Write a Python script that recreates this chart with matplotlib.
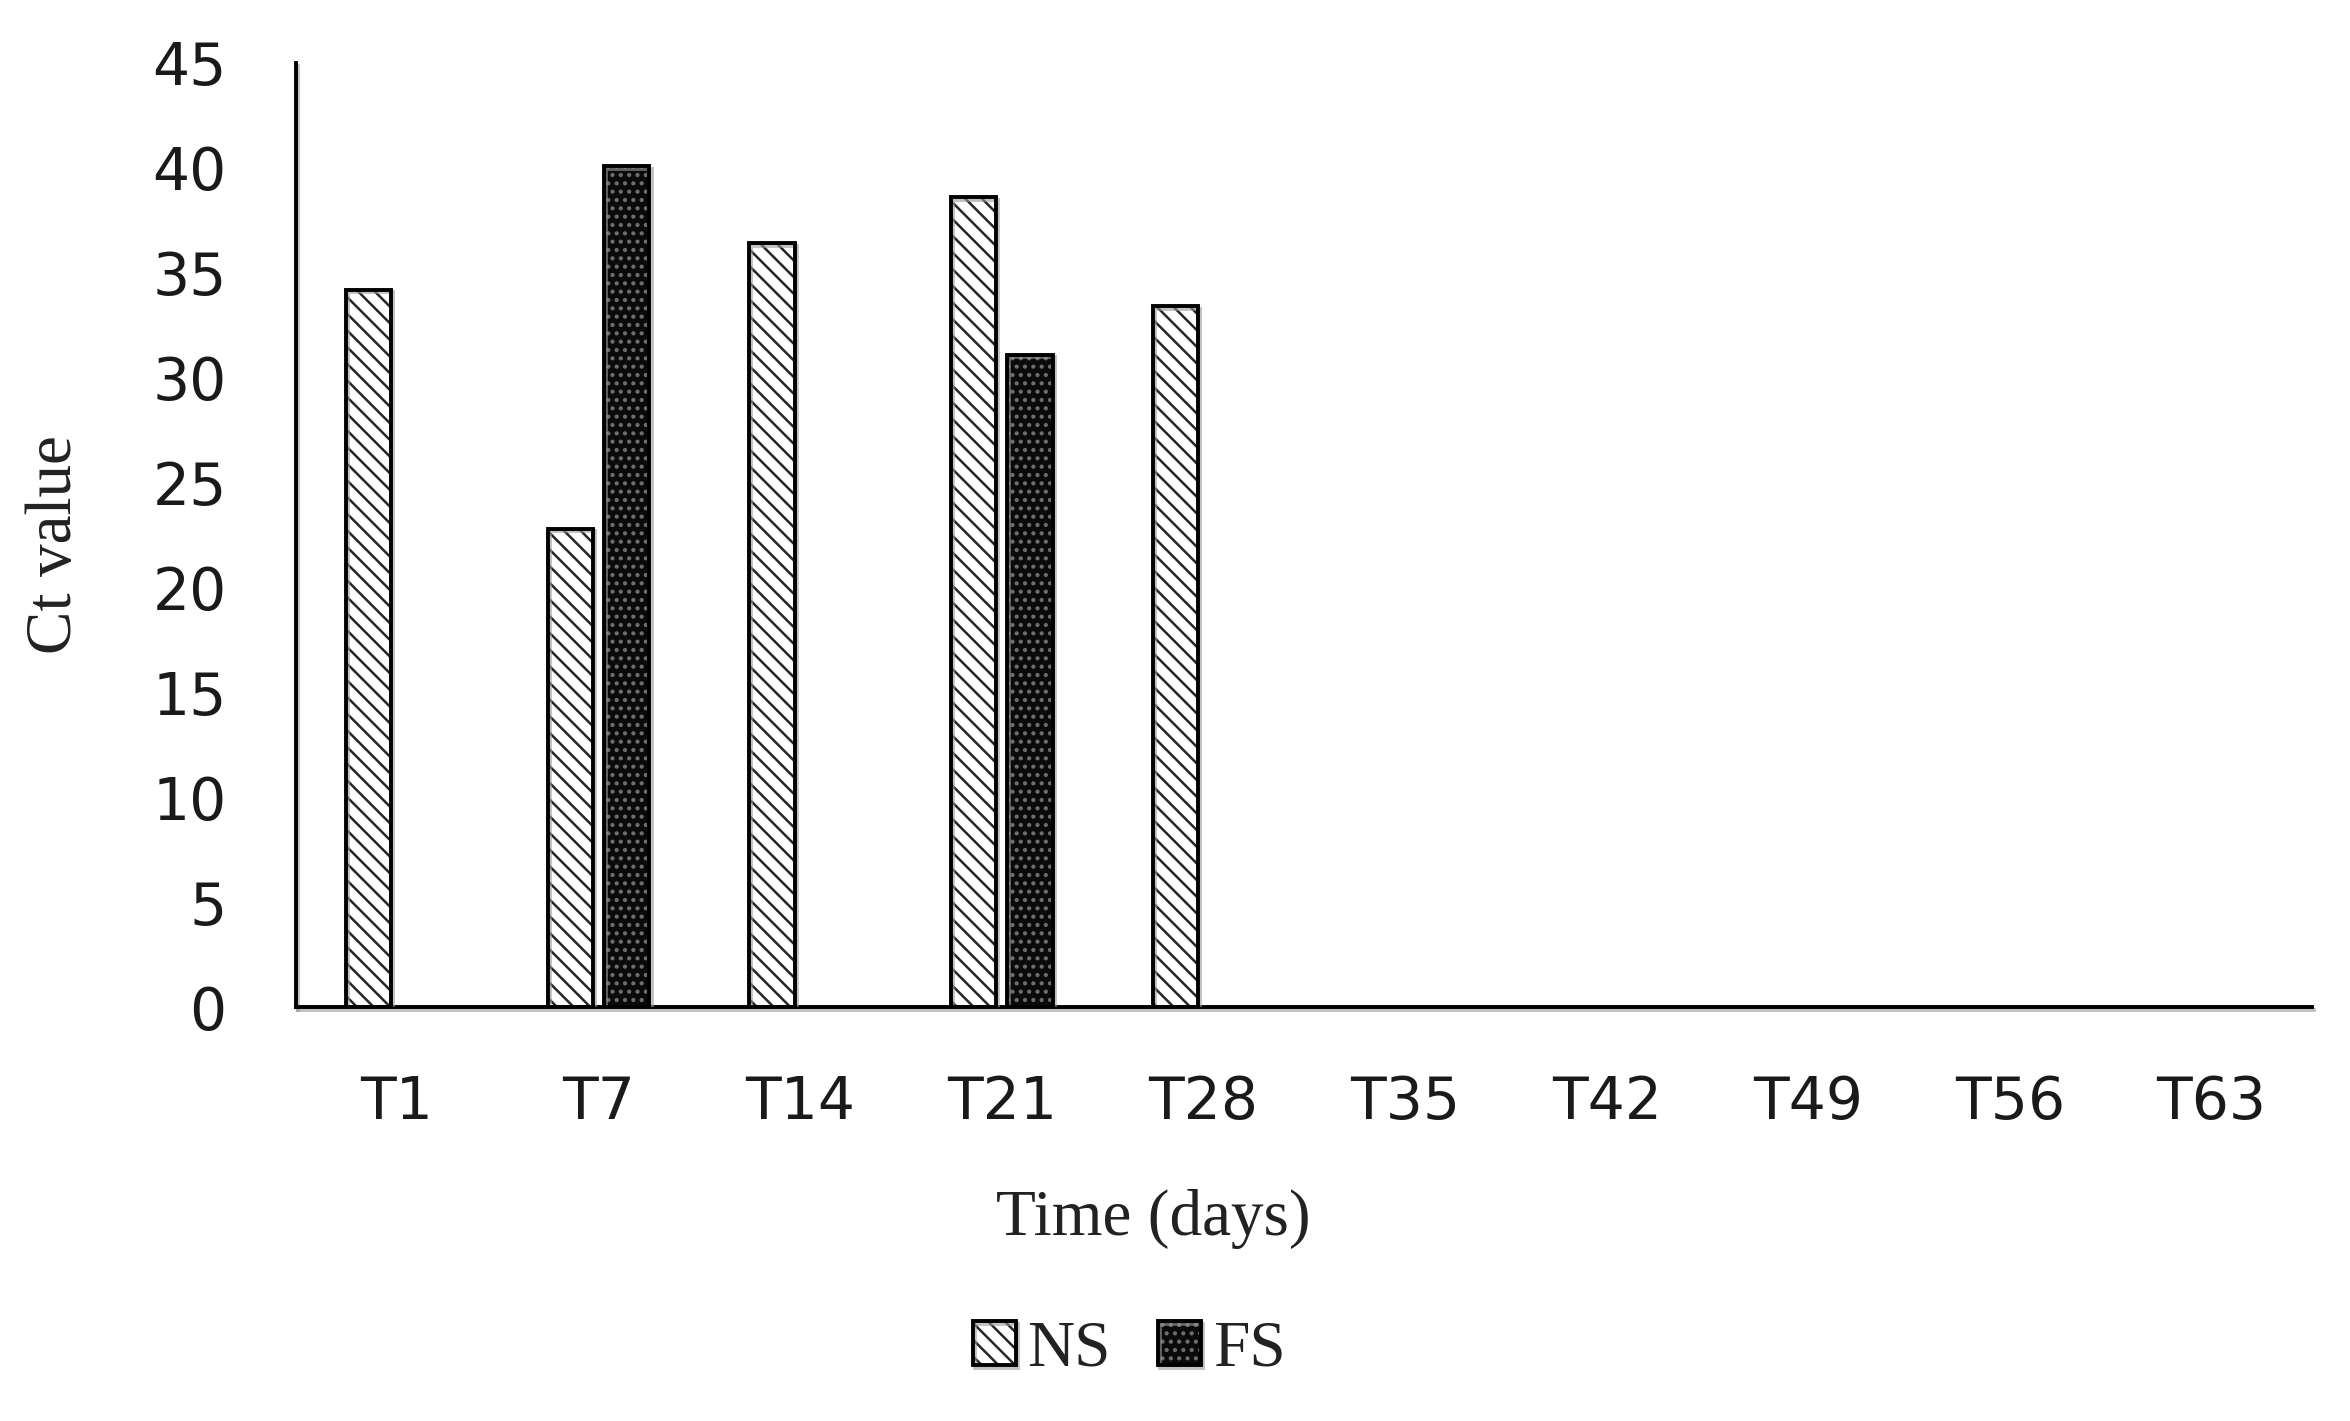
"""
Ct values over time for NS and FS samples (grouped bars with Excel-like hatching).
"""

import numpy as np
import matplotlib
matplotlib.use("Agg")
import matplotlib.pyplot as plt
import matplotlib.patheffects as pe

OUT_PATH = "out.png"
FIGURE_DPI = 100

# data (nan = no bar drawn)
TIMEPOINTS = ["T1", "T7", "T14", "T21", "T28", "T35", "T42", "T49", "T56", "T63"]
NS_VALUES = [34.2, 22.8, 36.4, 38.6, 33.4, np.nan, np.nan, np.nan, np.nan, np.nan]
FS_VALUES = [np.nan, 40.1, np.nan, 31.1, np.nan, np.nan, np.nan, np.nan, np.nan, np.nan]
SERIES_NAMES = ["NS", "FS"]
Y_TICKS = [0, 5, 10, 15, 20, 25, 30, 35, 40, 45]

BAR_WIDTH = 0.225
BAR_OFFSET = 0.14
SERIF = ["Liberation Serif", "DejaVu Serif"]
TEXT_COLOR = "#1a1a1a"

# stroke-only shadow (a patch shadow would fill the hollow outline layer)
SHADOW = [pe.SimpleLineShadow(offset=(1.5, -2), shadow_color="0.6", alpha=0.6),
          pe.Normal()]


def draw_series(ax, x, values, face, hatch, hatch_color):
    """Two layers: fill + hatch, then a black outline on top."""
    fill = ax.bar(x, values, BAR_WIDTH, color=face, hatch=hatch,
                  edgecolor=hatch_color, linewidth=0, zorder=2)
    edge = ax.bar(x, values, BAR_WIDTH, fill=False, edgecolor="black",
                  linewidth=2.8, zorder=3)
    for p in edge.patches:
        p.set_path_effects(SHADOW)
    return fill.patches[0], edge.patches[0]


def main():
    plt.rcParams["hatch.linewidth"] = 1.8

    fig = plt.figure(figsize=(23.5, 14.21), dpi=FIGURE_DPI)
    ax = fig.add_axes([0.126, 0.2913, 0.858, 0.6644])

    x = np.arange(len(TIMEPOINTS))
    ns_handle = draw_series(ax, x - BAR_OFFSET, NS_VALUES, "white", "\\\\", "#262626")
    fs_handle = draw_series(ax, x + BAR_OFFSET, FS_VALUES, "#0a0a0a", "..", "#6e6e6e")

    ax.set_xlim(-0.5, len(TIMEPOINTS) - 0.5)
    ax.set_ylim(0, 45)
    ax.set_yticks(Y_TICKS)
    ax.set_xticks(x)
    ax.set_xticklabels(TIMEPOINTS)
    ax.tick_params(axis="both", length=0, labelsize=42, labelcolor=TEXT_COLOR)
    ax.tick_params(axis="y", pad=50)
    ax.tick_params(axis="x", pad=48)

    for side in ("top", "right"):
        ax.spines[side].set_visible(False)
    for side in ("left", "bottom"):
        ax.spines[side].set_linewidth(2.8)
        ax.spines[side].set_color("black")
        ax.spines[side].set_path_effects(SHADOW)

    fig.text(0.4906, 0.1309, "Time (days)", ha="center", va="baseline",
             fontsize=47, family=SERIF, color="#222222")
    fig.text(0.0234, 0.6165, "Ct value", ha="center", va="center", rotation=90,
             fontsize=47, family=SERIF, color="#222222")

    fig.legend([ns_handle, fs_handle], SERIES_NAMES, loc="center",
               bbox_to_anchor=(0.4804, 0.05), ncol=2, frameon=False,
               prop={"family": SERIF, "size": 47},
               handlelength=0.66, handleheight=0.66, handletextpad=0.18,
               columnspacing=0.72, labelcolor="#222222")

    fig.savefig(OUT_PATH, dpi=FIGURE_DPI)
    plt.close(fig)


if __name__ == "__main__":
    main()
